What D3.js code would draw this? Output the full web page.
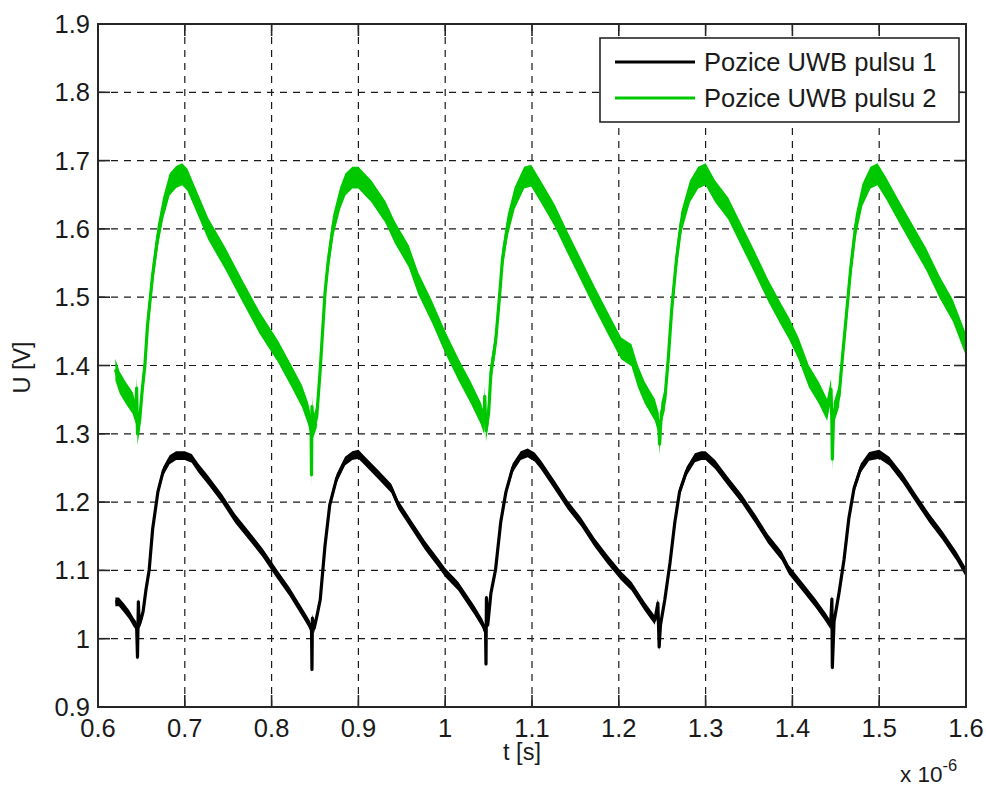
<!DOCTYPE html>
<html>
<head>
<meta charset="utf-8">
<script src="https://cdn.jsdelivr.net/npm/d3@7/dist/d3.min.js"></script>
<style>
  body { margin: 0; background: #ffffff; }
  text { font-family: "Liberation Sans", Arial, sans-serif; fill: #1a1a1a; }
</style>
</head>
<body>
<svg id="chart" width="986" height="789"></svg>
<script>
// Time axis in units of 10^-6 s, voltage in V
const xTicks = [0.6, 0.7, 0.8, 0.9, 1.0, 1.1, 1.2, 1.3, 1.4, 1.5, 1.6];
const yTicks = [0.9, 1.0, 1.1, 1.2, 1.3, 1.4, 1.5, 1.6, 1.7, 1.8, 1.9];
const seriesNames = ["Pozice UWB pulsu 1", "Pozice UWB pulsu 2"];
const seriesColors = ["#000000", "#00c800"];
// half-height of the measurement noise band around each trace (V)
const noiseSpread = [0.0065, 0.016];

// Pulse 1 position trace: [t (µs), U (V)]
const pulse1 = [
  [0.620,1.054],[0.624,1.054],[0.630,1.045],[0.636,1.035],[0.641,1.024],[0.6445,1.018],
  [0.6455,0.973],[0.6465,1.054],[0.6475,1.020],[0.650,1.030],[0.652,1.040],[0.6553,1.072],
  [0.659,1.101],[0.663,1.161],[0.669,1.215],[0.675,1.245],[0.6825,1.262],[0.690,1.268],
  [0.700,1.268],[0.708,1.264],[0.7156,1.250],[0.727,1.232],[0.743,1.205],[0.758,1.176],
  [0.774,1.151],[0.7895,1.126],[0.805,1.097],[0.8206,1.069],[0.8385,1.032],[0.844,1.020],
  [0.846,1.012],[0.8465,0.955],[0.847,1.030],[0.849,1.015],[0.852,1.032],[0.856,1.057],
  [0.8615,1.136],[0.867,1.196],[0.875,1.235],[0.8846,1.260],[0.893,1.268],[0.900,1.270],
  [0.9077,1.260],[0.923,1.240],[0.938,1.220],[0.946,1.196],[0.9615,1.166],[0.977,1.136],
  [0.992,1.111],[1.000,1.097],[1.015,1.077],[1.0335,1.042],[1.043,1.022],[1.0465,1.010],
  [1.047,0.963],[1.0475,1.060],[1.049,1.020],[1.0527,1.067],[1.058,1.101],[1.064,1.171],
  [1.070,1.215],[1.0777,1.250],[1.087,1.268],[1.095,1.272],[1.103,1.266],[1.110,1.255],
  [1.126,1.225],[1.141,1.196],[1.1565,1.171],[1.172,1.141],[1.187,1.116],[1.2027,1.092],
  [1.2146,1.077],[1.230,1.047],[1.2415,1.027],[1.245,1.052],[1.2465,0.988],[1.248,1.020],
  [1.253,1.057],[1.259,1.111],[1.2646,1.171],[1.270,1.215],[1.278,1.245],[1.2877,1.265],
  [1.295,1.268],[1.300,1.268],[1.311,1.255],[1.326,1.230],[1.3415,1.205],[1.357,1.176],
  [1.372,1.146],[1.3877,1.121],[1.3958,1.101],[1.411,1.077],[1.4266,1.052],[1.438,1.032],
  [1.444,1.020],[1.4455,1.058],[1.446,0.958],[1.448,1.025],[1.4537,1.067],[1.4595,1.116],
  [1.465,1.176],[1.471,1.220],[1.4788,1.250],[1.4884,1.267],[1.500,1.270],[1.5116,1.260],
  [1.527,1.235],[1.5425,1.205],[1.558,1.176],[1.573,1.151],[1.589,1.121],[1.600,1.097]
];

// Pulse 2 position trace: [t (µs), U (V)]
const pulse2 = [
  [0.620,1.394],[0.625,1.375],[0.632,1.360],[0.640,1.345],[0.6435,1.330],[0.6445,1.367],
  [0.6455,1.300],[0.648,1.320],[0.651,1.365],[0.654,1.400],[0.657,1.458],[0.663,1.533],
  [0.669,1.590],[0.675,1.630],[0.6825,1.665],[0.690,1.676],[0.697,1.680],[0.703,1.672],
  [0.712,1.645],[0.727,1.600],[0.747,1.556],[0.766,1.510],[0.786,1.463],[0.8077,1.420],
  [0.823,1.384],[0.835,1.355],[0.842,1.330],[0.8455,1.310],[0.846,1.240],[0.8465,1.340],
  [0.848,1.310],[0.852,1.325],[0.8558,1.390],[0.8615,1.506],[0.865,1.550],[0.871,1.605],
  [0.879,1.645],[0.885,1.665],[0.893,1.675],[0.900,1.675],[0.915,1.655],[0.931,1.625],
  [0.942,1.595],[0.958,1.560],[0.969,1.520],[0.985,1.478],[1.000,1.434],[1.0154,1.394],
  [1.0296,1.360],[1.041,1.330],[1.045,1.315],[1.0455,1.355],[1.047,1.305],[1.050,1.330],
  [1.0527,1.390],[1.058,1.434],[1.0623,1.497],[1.066,1.556],[1.072,1.605],[1.080,1.645],
  [1.091,1.675],[1.099,1.678],[1.110,1.655],[1.126,1.620],[1.141,1.580],[1.1565,1.540],
  [1.172,1.500],[1.187,1.463],[1.2027,1.425],[1.2146,1.415],[1.222,1.384],[1.230,1.360],
  [1.2415,1.335],[1.246,1.315],[1.247,1.285],[1.249,1.330],[1.253,1.350],[1.257,1.410],
  [1.261,1.483],[1.2665,1.556],[1.272,1.610],[1.282,1.655],[1.2915,1.675],[1.300,1.680],
  [1.311,1.655],[1.326,1.630],[1.3415,1.590],[1.357,1.550],[1.372,1.510],[1.3877,1.473],
  [1.3958,1.455],[1.407,1.425],[1.419,1.384],[1.4305,1.360],[1.440,1.335],[1.4445,1.365],
  [1.4455,1.315],[1.446,1.263],[1.4475,1.330],[1.4537,1.355],[1.4575,1.410],[1.4614,1.463],
  [1.467,1.540],[1.473,1.605],[1.4807,1.650],[1.490,1.675],[1.498,1.680],[1.5077,1.660],
  [1.523,1.625],[1.5386,1.590],[1.554,1.556],[1.5695,1.515],[1.585,1.480],[1.600,1.430]
];

const series = [pulse1, pulse2];

const svg = d3.select("#chart");
const W = 986, H = 789;
const plot = { left: 98, right: 966, top: 24, bottom: 707 };
const FONT = 25.5;

svg.append("rect").attr("width", W).attr("height", H).attr("fill", "#ffffff");

const x = d3.scaleLinear().domain([0.6, 1.6]).range([plot.left, plot.right]);
const y = d3.scaleLinear().domain([0.9, 1.9]).range([plot.bottom, plot.top]);
const fmt = v => String(+v.toFixed(1));

// dashed grid
const grid = svg.append("g").attr("stroke", "#1a1a1a").attr("stroke-width", 1.2)
  .attr("stroke-dasharray", "7,6");
grid.selectAll("line.gx").data(xTicks.slice(1, -1)).join("line")
  .attr("x1", d => x(d)).attr("x2", d => x(d))
  .attr("y1", plot.top).attr("y2", plot.bottom);
grid.selectAll("line.gy").data(yTicks.slice(1, -1)).join("line")
  .attr("y1", d => y(d)).attr("y2", d => y(d))
  .attr("x1", plot.left).attr("x2", plot.right);

// traces: noise band plus centre line
svg.append("clipPath").attr("id", "plotClip").append("rect")
  .attr("x", plot.left).attr("y", plot.top)
  .attr("width", plot.right - plot.left).attr("height", plot.bottom - plot.top);
const traces = svg.append("g").attr("clip-path", "url(#plotClip)");
series.forEach((data, i) => {
  const band = d3.area()
    .x(d => x(d[0]))
    .y0(d => y(d[1] - noiseSpread[i]))
    .y1(d => y(d[1] + noiseSpread[i]));
  const line = d3.line().x(d => x(d[0])).y(d => y(d[1]));
  traces.append("path").datum(data).attr("d", band)
    .attr("fill", seriesColors[i]);
  traces.append("path").datum(data).attr("d", line)
    .attr("fill", "none").attr("stroke", seriesColors[i])
    .attr("stroke-width", 3.2).attr("stroke-linejoin", "round");
});

// axes box with inward ticks on all four sides
const TL = 12;
const axes = svg.append("g").attr("stroke", "#262626").attr("stroke-width", 1.6);
const inner = xTicks.slice(1, -1);
axes.selectAll("line.tb").data(inner).join("line")
  .attr("x1", d => x(d)).attr("x2", d => x(d))
  .attr("y1", plot.bottom).attr("y2", plot.bottom - TL);
axes.selectAll("line.tt").data(inner).join("line")
  .attr("x1", d => x(d)).attr("x2", d => x(d))
  .attr("y1", plot.top).attr("y2", plot.top + TL);
const innerY = yTicks.slice(1, -1);
axes.selectAll("line.tl").data(innerY).join("line")
  .attr("y1", d => y(d)).attr("y2", d => y(d))
  .attr("x1", plot.left).attr("x2", plot.left + TL);
axes.selectAll("line.tr").data(innerY).join("line")
  .attr("y1", d => y(d)).attr("y2", d => y(d))
  .attr("x1", plot.right).attr("x2", plot.right - TL);
axes.append("rect")
  .attr("x", plot.left).attr("y", plot.top)
  .attr("width", plot.right - plot.left).attr("height", plot.bottom - plot.top)
  .attr("fill", "none").attr("stroke-width", 2);

// tick labels
svg.append("g").selectAll("text").data(xTicks).join("text")
  .attr("x", d => x(d)).attr("y", plot.bottom + 21)
  .attr("text-anchor", "middle").attr("dominant-baseline", "central")
  .attr("font-size", FONT).text(fmt);
svg.append("g").selectAll("text").data(yTicks).join("text")
  .attr("x", plot.left - 8).attr("y", d => y(d))
  .attr("text-anchor", "end").attr("dominant-baseline", "central")
  .attr("font-size", FONT).text(fmt);

// axis titles
svg.append("text").attr("x", (plot.left + plot.right) / 2 - 10).attr("y", 752)
  .attr("text-anchor", "middle").attr("dominant-baseline", "central")
  .attr("font-size", FONT - 2).text("t [s]");
svg.append("text")
  .attr("transform", `translate(22,${(plot.top + plot.bottom) / 2 + 2}) rotate(-90)`)
  .attr("text-anchor", "middle").attr("dominant-baseline", "central")
  .attr("font-size", FONT - 2).text("U [V]");

// exponent of the time axis
const expo = svg.append("text").attr("x", 900).attr("y", 782).attr("font-size", FONT - 3);
expo.append("tspan").text("x 10");
expo.append("tspan").attr("dy", -11).attr("font-size", FONT - 9).text("-6");

// legend
const lg = svg.append("g").attr("transform", "translate(600,38)");
lg.append("rect").attr("width", 359).attr("height", 84)
  .attr("fill", "#ffffff").attr("stroke", "#262626").attr("stroke-width", 1.6);
seriesNames.forEach((name, i) => {
  const cy = 24 + i * 36;
  lg.append("line").attr("x1", 15).attr("x2", 95).attr("y1", cy).attr("y2", cy)
    .attr("stroke", seriesColors[i]).attr("stroke-width", 3.2);
  lg.append("text").attr("x", 104).attr("y", cy)
    .attr("dominant-baseline", "central").attr("font-size", FONT).text(name);
});
</script>
</body>
</html>
